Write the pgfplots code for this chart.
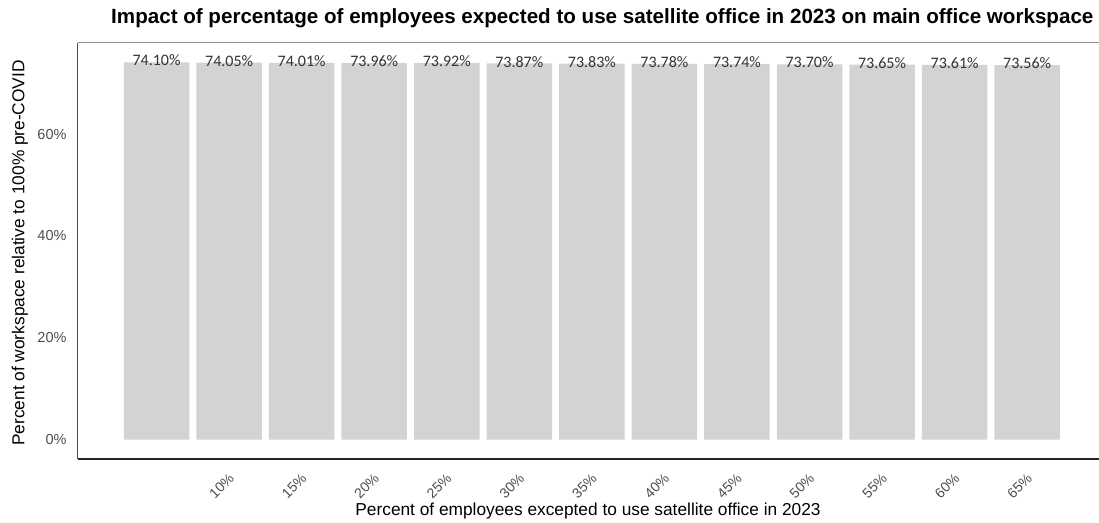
\documentclass[border=0pt]{standalone}
\usepackage{pgfplots}
\pgfplotsset{compat=1.18}
\usepackage{fontspec}
\setmainfont{Liberation Sans}
\newfontfamily\calibri{Carlito}
\definecolor{bargray}{HTML}{D3D3D3}
\definecolor{ticktext}{HTML}{4D4D4D}
\begin{document}
\begin{tikzpicture}[x=1pt,y=1pt]
\useasboundingbox (0,0) rectangle (1099,522);
\begin{axis}[
  at={(77.7pt,63pt)}, anchor=south west,
  scale only axis, width=1022pt, height=416.3pt,
  xmin=-1.087, xmax=13.0, ymin=-3.83, ymax=77.95,
  axis line style={draw=none},
  xtick={1,2,3,4,5,6,7,8,9,10,11,12},
  xticklabels={10\%,15\%,20\%,25\%,30\%,35\%,40\%,45\%,50\%,55\%,60\%,65\%},
  ytick={0,20,40,60}, yticklabels={0\%,20\%,40\%,60\%},
  major tick length=0pt,
  tick style={draw=none},
  xticklabel style={font=\fontsize{14}{14}\selectfont, text=ticktext, inner sep=0pt, xshift=2.5pt, yshift=-17pt, rotate=45, anchor=east},
  yticklabel style={font=\fontsize{14.5}{14.5}\selectfont, text=ticktext, inner sep=0pt, xshift=-11pt, anchor=east},
  clip=false,
  ybar, bar width=65.5pt,
  nodes near coords={\pgfmathprintnumber[fixed,fixed zerofill,precision=2,assume math mode=true]{\pgfplotspointmeta}\%},
  every node near coord/.append style={font=\calibri\fontsize{16}{16}\selectfont, text=black!80, inner sep=0pt, yshift=-4pt},
]
\addplot[fill=bargray, draw=none] coordinates {
(0,74.10) (1,74.05) (2,74.01) (3,73.96) (4,73.92) (5,73.87) (6,73.83)
(7,73.78) (8,73.74) (9,73.70) (10,73.65) (11,73.61) (12,73.56)};
\draw[color=black!70, line width=1pt] (rel axis cs:0,0) -- (rel axis cs:0,1);
\draw[color=black!45, line width=1.5pt] (rel axis cs:0,1) -- (rel axis cs:1,1);
\draw[color=black!85, line width=2pt] (rel axis cs:0,0) -- (rel axis cs:1,0);
\end{axis}
\node[font=\bfseries\fontsize{20.6}{20.6}\selectfont, anchor=east] at (1097,504) {Impact of percentage of employees expected to use satellite office in 2023 on main office workspace};
\node[font=\fontsize{17.3}{17.3}\selectfont] at (588,11) {Percent of employees excepted to use satellite office in 2023};
\node[font=\fontsize{17.3}{17.3}\selectfont, rotate=90] at (20,269) {Percent of workspace relative to 100\% pre-COVID};
\end{tikzpicture}
\end{document}
